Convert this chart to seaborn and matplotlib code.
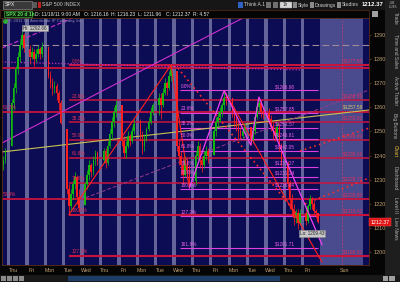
import matplotlib
matplotlib.use("Agg")
import matplotlib.pyplot as plt
from matplotlib.patches import Rectangle
import numpy as np
import pandas as pd
import seaborn as sns

# ------------------------------------------------------------------ data
day_labels = ["Thu", "Fri", "Mon", "Tue", "Wed", "Thu", "Fri", "Mon", "Tue",
              "Wed", "Thu", "Fri", "Mon", "Tue", "Wed", "Thu", "Fri"]
future_label = "Sun"

# last two hourly bars of the previous session (Wed)
prev_open = [1236.0, 1238.0]
prev_high = [1240.0, 1243.0]
prev_low = [1234.0, 1237.0]
prev_close = [1238.0, 1242.0]

day_open = [1243.97, 1284.39, 1284.96, 1251.00, 1219.62, 1238.25, 1260.82, 1253.21, 1261.12,
            1275.18, 1229.59, 1240.12, 1263.85, 1251.70, 1257.81, 1236.56, 1216.19]
closes = [
    [1262, 1268, 1276, 1281, 1286, 1290, 1284.59],
    [1281, 1283, 1280, 1282, 1284, 1282, 1285.09],
    [1273, 1270, 1268, 1269, 1266, 1262, 1253.30],
    [1226, 1219, 1224, 1228, 1231, 1223, 1218.28],
    [1228, 1232, 1236, 1233, 1238, 1241, 1237.90],
    [1242, 1237, 1244, 1249, 1254, 1258, 1261.15],
    [1246, 1241, 1244, 1248, 1246, 1250, 1253.23],
    [1248, 1244, 1247, 1251, 1254, 1258, 1261.12],
    [1264, 1261, 1266, 1270, 1268, 1273, 1275.92],
    [1244, 1240, 1236, 1232, 1238, 1234, 1229.10],
    [1240, 1244, 1238, 1236, 1240, 1242, 1239.69],
    [1250, 1254, 1256, 1258, 1261, 1264, 1263.85],
    [1258, 1255, 1252, 1250, 1248, 1250, 1251.78],
    [1246, 1250, 1256, 1260, 1262, 1258, 1257.81],
    [1255, 1252, 1250, 1248, 1252, 1244, 1236.91],
    [1228, 1222, 1218, 1214, 1216, 1212, 1216.13],
    [1213, 1219, 1222, 1220, 1217, 1216.16, 1212.37],
]
highs = [
    [1263.5, 1270, 1277, 1283, 1288, 1292.66, 1291],
    [1286, 1285, 1284, 1284, 1286, 1285, 1287.08],
    [1284.96, 1275, 1272, 1271, 1270, 1267, 1263],
    [1251, 1228, 1226, 1230, 1233, 1232, 1226],
    [1229, 1234, 1238, 1237, 1240, 1242.48, 1242],
    [1243, 1243, 1246, 1251, 1256, 1260, 1263.21],
    [1260.82, 1248, 1246, 1250, 1249, 1252, 1255],
    [1255, 1250, 1249, 1252, 1256, 1260, 1261.70],
    [1266, 1266, 1268, 1272, 1271, 1275, 1277.55],
    [1275.18, 1247, 1242, 1239, 1240, 1239, 1236],
    [1242, 1246.22, 1245, 1240, 1242, 1244, 1243],
    [1251, 1256, 1258, 1260, 1262, 1266.98, 1266],
    [1263.85, 1260, 1257, 1254, 1252, 1252, 1253],
    [1252, 1251, 1257, 1262, 1264.25, 1263, 1260],
    [1259.61, 1257, 1254, 1252, 1254, 1253, 1245],
    [1237.73, 1230, 1224, 1220, 1218, 1218, 1218],
    [1218, 1220, 1223.51, 1223, 1221, 1218, 1216.23],
]
lows = [
    [1243.97, 1259, 1266, 1274, 1279, 1284, 1283],
    [1278, 1280, 1277.01, 1279, 1281, 1280, 1281],
    [1272, 1268, 1265, 1266, 1263, 1259, 1253.16],
    [1224, 1215.42, 1217, 1222, 1226, 1220, 1216.5],
    [1219.62, 1226, 1230, 1231, 1232, 1236, 1236],
    [1237, 1234.81, 1236, 1243, 1247, 1252, 1256],
    [1244, 1238.92, 1239, 1243, 1244, 1245, 1249],
    [1246, 1240.75, 1242, 1246, 1250, 1253, 1257],
    [1257, 1254.99, 1260, 1265, 1265, 1267, 1271],
    [1242, 1236, 1232, 1228, 1231, 1230, 1226.64],
    [1227.70, 1238, 1235, 1233, 1235, 1238, 1237],
    [1240.12, 1248, 1252, 1254, 1256, 1259, 1261],
    [1256, 1252, 1250, 1247, 1246.68, 1247, 1249],
    [1244.34, 1245, 1249, 1255, 1258, 1256, 1255],
    [1253, 1250, 1247, 1246, 1247, 1242, 1235.67],
    [1226, 1218, 1215, 1211, 1212, 1209.43, 1211],
    [1211.36, 1212, 1218, 1218, 1215, 1214, 1211.96],
]

# Fibonacci retracement (red, Nov 1 low -> Nov 8 high)
red_fib_pcts = ["0.0%", "23.6%", "38.2%", "50.0%", "61.8%", "78.6%", "100.0%", "127.2%"]
red_fib_prices = [1277.55, 1262.89, 1253.82, 1246.49, 1239.16, 1228.72, 1215.42, 1198.52]
# other red horizontal levels (full width)
red_levels = [1276.3, 1258.1, 1221.9]
red_level_pcts = ["", "61.8%", "50.0%"]
red_level_tags = ["", "", "$1220.88"]
# Fibonacci (magenta, Nov 11 swing)
mag_fib_pcts = ["0.0%", "23.6%", "38.2%", "50.0%", "61.8%", "78.6%", "88.6%", "100.0%", "127.2%", "161.8%"]
mag_fib_prices = [1266.98, 1257.85, 1251.57, 1246.81, 1242.05, 1235.27, 1231.24, 1226.04, 1214.90, 1201.71]
mag_fib_tags = ["$1266.98", "$1257.85", "$1251.57", "$1246.81", "$1242.05", "$1235.27",
                "$1231.24", "$1226.04", "", "$1201.71"]
grey_level = 1286.0
olive_tag = "$1257.58"
hi_value = 1292.66
lo_value = 1209.43
last_price = 1212.37
y_ticks = [1200, 1210, 1220, 1230, 1240, 1250, 1260, 1270, 1280, 1290]
header_fields = ["D: 11/18/11 9:00 AM", "O: 1216.16", "H: 1216.23",
                 "L: 1211.96", "C: 1212.37", "R: 4.57"]
side_tabs = ["Trade", "Time and Sales", "Active Trader", "Big Buttons",
             "Chart", "Dashboard", "Level II", "Live News"]

# trend lines as (bar-position, price) anchors
olive_line = [(-3.2, 1241.5), (176.4, 1258.9)]
mag_trend = [(-3.2, 1245.2), (115.7, 1297.5)]
mag_dash_top = [(-3.2, 1284.6), (32.5, 1297.5)]
mag_dot_top = [(-3.2, 1278.8), (142.6, 1275.5)]
mauve_dash = [(35.0, 1221.6), (176.4, 1267.2)]
red_dot_down = [(82.9, 1276.3), (142.6, 1214.1)]
red_dot_up1 = [(142.6, 1241.9), (176.4, 1251.4)]
red_dot_up2 = [(145.0, 1219.9), (176.4, 1230.7)]


def bx(day, hour):
    return 9 * day + 1.5 + hour


red_zig_a = [(bx(3, 1), 1215.42), (bx(8, 6), 1277.55), (bx(9, 6), 1226.64)]
red_zig_b = [(bx(11, 5), 1266.98), (153.4, 1195.8)]
mag_zig = [(bx(9, 6), 1226.64), (bx(11, 5), 1266.98), (bx(13, 0), 1244.34),
           (bx(13, 4), 1264.25), (153.4, 1203.0)]

# ------------------------------------------------------------------ frame
rows = []
for h in range(2):
    rows.append(dict(x=bx(-1, 5 + h), open=prev_open[h], high=prev_high[h],
                     low=prev_low[h], close=prev_close[h]))
for k in range(len(day_open)):
    o = day_open[k]
    for h in range(7):
        c = closes[k][h]
        rows.append(dict(x=bx(k, h), open=o, high=highs[k][h], low=lows[k][h], close=c))
        o = c
bars = pd.DataFrame(rows)
bars["up"] = bars["close"] >= bars["open"]

# ------------------------------------------------------------------ style
sns.set_theme(style="dark", rc={"axes.facecolor": "#0c0c54",
                                "figure.facecolor": "#050505"})
plt.rcParams["font.family"] = ["Liberation Sans", "DejaVu Sans"]

W, H = 400, 282
fig = plt.figure(figsize=(4.0, 2.82), dpi=100)


def fx(px):
    return px / W


def fy(py):
    return 1 - py / H


def frect(x0, y0, x1, y1, fc, ec=None, lw=0.0, z=0):
    fig.add_artist(Rectangle((fx(x0), fy(y1)), (x1 - x0) / W, (y1 - y0) / H,
                             transform=fig.transFigure, fc=fc,
                             ec=ec if ec else fc, lw=lw, zorder=z))


ax = fig.add_axes([fx(2), fy(265), 367 / W, 247 / H])
ax.set_facecolor("#0c0c54")
XMIN, XMAX = -3.18, 176.37
YMIN, YMAX = 1194.6, 1297.05
ax.set_xlim(XMIN, XMAX)
ax.set_ylim(YMIN, YMAX)

# session separators and future area
for k in range(0, 17):
    ax.axvspan(9 * k - 0.8, 9 * k + 0.8, color="#64649a", lw=0, zorder=0.5)
ax.axvspan(152.4, 173.2, color="#4a4a8e", lw=0, zorder=0.4)
ax.axvline(163.2, color="#c04068", lw=0.5, ls=(0, (3, 2)), zorder=1)

# horizontal levels
ax.hlines(grey_level, XMIN, XMAX, colors="#a08c98", lw=0.8, ls=(0, (6, 3)), zorder=2)
RED = "#c8143c"
for p, pct in zip(red_fib_prices, red_fib_pcts):
    lw = 1.5 if pct in ("0.0%", "100.0%", "127.2%") else 1.1
    ax.hlines(p, 29.5, XMAX, colors=RED, lw=lw, zorder=2)
    ax.text(31.0, p + 0.6, pct, color="#e0305a", fontsize=3.4, va="bottom", zorder=6)
    ax.text(163.7, p + 0.6, "$%.2f" % p, color="#e0305a", fontsize=3.4, va="bottom", zorder=6)
for p, pct, tag in zip(red_levels, red_level_pcts, red_level_tags):
    ax.hlines(p, XMIN, XMAX, colors=RED, lw=1.3, zorder=2)
    if pct:
        ax.text(-2.6, p + 0.8, pct, color="#e0305a", fontsize=3.4, va="bottom", zorder=6)
    if tag:
        ax.text(163.7, p + 0.8, tag, color="#e0305a", fontsize=3.4, va="bottom", zorder=6)
MAG = "#e040e0"
for p, pct, tag in zip(mag_fib_prices, mag_fib_pcts, mag_fib_tags):
    ax.hlines(p, 84.0, 151.4, colors=MAG, lw=0.8, zorder=2.2)
    ax.text(84.4, p + 0.5, pct, color="#f060f0", fontsize=3.4, va="bottom", zorder=6)
    if tag:
        ax.text(130.4, p + 0.5, tag, color="#f060f0", fontsize=3.4, va="bottom", zorder=6)


def line(pts, **kw):
    d = pd.DataFrame(pts, columns=["x", "price"])
    sns.lineplot(data=d, x="x", y="price", ax=ax, estimator=None, sort=False,
                 legend=False, **kw)


line(olive_line, color="#c8c050", lw=0.8, zorder=2.5)
ax.text(163.7, 1259.2, olive_tag, color="#d8d060", fontsize=3.4, va="bottom", zorder=6)
line(mag_trend, color="#d030d0", lw=0.8, zorder=2.5)
line(mag_dash_top, color="#d030d0", lw=0.8, ls=(0, (4, 2)), zorder=2.5)
line(mag_dot_top, color="#c030c0", lw=0.9, ls=(0, (1, 1.5)), zorder=2.5)
line(mauve_dash, color="#9a3a8a", lw=0.7, ls=(0, (4, 2)), zorder=2.5)
line(red_dot_down, color="#ff2a2a", lw=1.2, ls=(0, (1, 2)), zorder=2.6)
line(red_dot_up1, color="#ff2a2a", lw=1.2, ls=(0, (1, 2)), zorder=2.6)
line(red_dot_up2, color="#ff2a2a", lw=1.2, ls=(0, (1, 2)), zorder=2.6)

# candles
UP, DN = "#12b812", "#ff1e1e"
cols = np.where(bars["up"], UP, DN)
ax.vlines(bars["x"], bars["low"], bars["high"], colors=cols, lw=0.55, zorder=4)
body = (bars["close"] - bars["open"]).abs().clip(lower=0.35)
ax.bar(bars["x"], body, bottom=bars[["open", "close"]].min(axis=1), width=0.8,
       color=cols, lw=0, zorder=4.2)

# zigzag pattern lines (over candles)
line(red_zig_a, color="#ff2020", lw=0.8, zorder=5)
line(red_zig_b, color="#ff2020", lw=0.8, zorder=5)
line(mag_zig, color="#f040f0", lw=0.9, zorder=5)

# Hi / Lo bubbles
ax.text(7.1, 1292.9, "Hi: %.2f" % hi_value, color="#202020", fontsize=3.3, va="center",
        zorder=7, bbox=dict(boxstyle="square,pad=0.2", fc="#c8c8c8", ec="#8a8a8a", lw=0.4))
ax.text(142.6, 1207.5, "Lo: %.2f" % lo_value, color="#202020", fontsize=3.3, va="center",
        zorder=7, bbox=dict(boxstyle="square,pad=0.2", fc="#c8c8c8", ec="#8a8a8a", lw=0.4))
ax.scatter([-1.8], [1296.0], s=6, color="#30b030", zorder=7, clip_on=False)
ax.text(0.3, 1296.0, "\u00a9 2011 TD Ameritrade IP Company, Inc.", color="#8c8cb4",
        fontsize=3.1, va="center", zorder=7)

# axes cosmetics
ax.yaxis.tick_right()
ax.set_yticks(y_ticks)
ax.set_yticklabels([str(v) for v in y_ticks])
ax.tick_params(axis="y", which="both", right=True, left=False, length=1.5, width=0.4,
               color="#806040", labelcolor="#c0a070", labelsize=4, pad=1.5)
ax.set_xticks([9 * k + 2.2 for k in range(len(day_labels))] + [9 * 18 + 2.6])
ax.set_xticklabels(day_labels + [future_label])
ax.tick_params(axis="x", length=0, labelsize=3.8, labelcolor="#c0a070", pad=2.5)
ax.set_xlabel("")
ax.set_ylabel("")
ax.grid(False)
for s in ax.spines.values():
    s.set_color("#5c2e1a")
    s.set_linewidth(0.6)

# current price tag
ax.text(1.004, last_price, "%.2f" % last_price, transform=ax.get_yaxis_transform(),
        color="white", fontsize=3.8, va="center", ha="left", zorder=9, clip_on=False,
        bbox=dict(boxstyle="square,pad=0.25", fc="#e01414", ec="#ff5050", lw=0.3))

# ------------------------------------------------------------------ chrome
frect(0, 0, 400, 10, "#161616")
frect(3, 1, 32, 9, "#3a3a3a", ec="#9a9a9a", lw=0.4, z=1)
fig.text(fx(5), fy(5), "SPX", color="#f0f0f0", fontsize=3.8, va="center")
frect(33, 2, 37, 8, "#5a5a5a", z=1)
frect(38, 2, 41, 8, "#c02020", z=1)
fig.text(fx(42), fy(5), "S&P 500 INDEX", color="#c8c8c8", fontsize=3.8, va="center")
frect(238, 2, 243, 8, "#3060c0", z=1)
fig.text(fx(244), fy(5), "Think A.1", color="#d0d0d0", fontsize=3.6, va="center")
frect(266, 2, 271, 8, "#707070", z=1)
frect(273, 2, 278, 8, "#707070", z=1)
frect(280, 2, 292, 8, "#d8d8d8", ec="#909090", lw=0.3, z=1)
fig.text(fx(283), fy(5), "1h", color="#202020", fontsize=3.3, va="center")
frect(293, 2, 297, 8, "#8a8a8a", z=1)
fig.text(fx(298), fy(5), "Style", color="#d0d0d0", fontsize=3.6, va="center")
frect(310, 2, 314, 8, "#8a8a8a", z=1)
fig.text(fx(315), fy(5), "Drawings", color="#d0d0d0", fontsize=3.6, va="center")
frect(337, 2, 341, 8, "#8a8a8a", z=1)
fig.text(fx(342), fy(5), "Studies", color="#d0d0d0", fontsize=3.6, va="center")
fig.text(fx(362), fy(5), "%.2f" % last_price, color="#ffffff", fontsize=4.3,
         va="center", fontweight="bold")
fig.text(fx(389), fy(5), "-3.46\n-0.28%", color="#c0c0c0", fontsize=2.0,
         va="center", linespacing=0.9)

frect(0, 10, 369, 18, "#050505", ec="#5c2e1a", lw=0.5)
frect(4, 11, 32, 17, "#0a200a", ec="#3aa03a", lw=0.5, z=1)
fig.text(fx(6), fy(14), "SPX 20 d 1h", color="#5ce05c", fontsize=3.6, va="center",
         fontweight="bold")
hx = [35, 84, 111, 138, 166, 193]
for x0, txt in zip(hx, header_fields):
    frect(x0 - 2, 11, x0 - 1.6, 17, "#707070", z=1)
    fig.text(fx(x0), fy(14), txt, color="#e6e6e6", fontsize=3.6, va="center")
frect(372, 11, 378, 17, "#a0a0a0", z=1)

frect(385, 0, 400, 282, "#1e1e1e")
tab_centers = [18, 51, 91, 126, 151, 178, 205, 228]
for c, txt in zip(tab_centers, side_tabs):
    fig.text(fx(395), fy(c), txt, color="#e8c040" if txt == "Chart" else "#b0b0b0",
             fontsize=3.5, rotation=270, ha="center", va="center")

frect(0, 275, 400, 282, "#181818")
frect(68, 276, 280, 281, "#1d3c66", z=1)
for x0 in [1, 7, 13, 19]:
    frect(x0, 276, x0 + 5, 281, "#8a8a8a", z=1)
frect(383, 276, 388, 281, "#a0a0a0", z=1)
frect(389, 276, 395, 281, "#a0a0a0", z=1)

fig.savefig("out.png", dpi=100, facecolor=fig.get_facecolor())
